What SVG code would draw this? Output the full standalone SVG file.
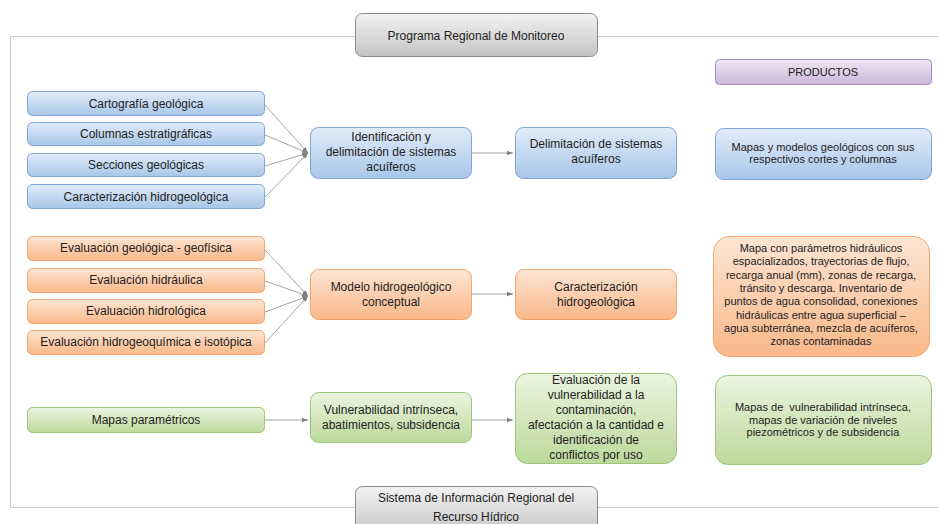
<svg xmlns="http://www.w3.org/2000/svg" width="938" height="524" viewBox="0 0 938 524">
<defs>
<linearGradient id="gb" x1="0" y1="0" x2="0" y2="1"><stop offset="0" stop-color="#e1ecf8"/><stop offset="1" stop-color="#a8c6e9"/></linearGradient>
<linearGradient id="go" x1="0" y1="0" x2="0" y2="1"><stop offset="0" stop-color="#fde5d3"/><stop offset="1" stop-color="#f9b88a"/></linearGradient>
<linearGradient id="gg" x1="0" y1="0" x2="0" y2="1"><stop offset="0" stop-color="#ebf4e0"/><stop offset="1" stop-color="#bcd99b"/></linearGradient>
<linearGradient id="gy" x1="0" y1="0" x2="0" y2="1"><stop offset="0" stop-color="#f2f2f2"/><stop offset="1" stop-color="#c4c4c4"/></linearGradient>
<linearGradient id="gp" x1="0" y1="0" x2="0" y2="1"><stop offset="0" stop-color="#efe7f4"/><stop offset="1" stop-color="#cbb6da"/></linearGradient>
<marker id="ah" viewBox="0 0 6 6" refX="6" refY="3" markerWidth="6" markerHeight="6" orient="auto" markerUnits="userSpaceOnUse"><path d="M0,0.8 L6,3 L0,5.2 z" fill="#808080"/></marker>
</defs>
<style>
text{font-family:"Liberation Sans",Arial,sans-serif;font-size:12px;fill:#222222;text-anchor:middle;white-space:pre}
.b{fill:url(#gb);stroke:#7fa7d8;stroke-width:1}
.o{fill:url(#go);stroke:#f3a56e;stroke-width:1}
.g{fill:url(#gg);stroke:#9cc47c;stroke-width:1}
.y{fill:url(#gy);stroke:#8a8a8a;stroke-width:1}
.p{fill:url(#gp);stroke:#a98cc0;stroke-width:1}
.c{fill:none;stroke:#8c8c8c;stroke-width:0.8}
.s{font-size:11px}
</style>
<rect width="938" height="524" fill="#ffffff"/>
<g id="frame" fill="none" stroke="#c8c8c8" stroke-width="1">
<polyline points="355,36.5 10.5,36.5 10.5,507.5 355,507.5"/>
<line x1="598" y1="36.5" x2="938" y2="36.5"/>
<line x1="598" y1="507.5" x2="938" y2="507.5"/>
</g>
<g id="connectors">
<line class="c" x1="265" y1="105" x2="308" y2="153" marker-end="url(#ah)"/>
<line class="c" x1="265" y1="135" x2="308" y2="153" marker-end="url(#ah)"/>
<line class="c" x1="265" y1="166" x2="308" y2="153" marker-end="url(#ah)"/>
<line class="c" x1="265" y1="197" x2="308" y2="153" marker-end="url(#ah)"/>
<line class="c" x1="472" y1="153" x2="513" y2="153" marker-end="url(#ah)"/>
<line class="c" x1="265" y1="250" x2="308" y2="296" marker-end="url(#ah)"/>
<line class="c" x1="265" y1="281" x2="308" y2="296" marker-end="url(#ah)"/>
<line class="c" x1="265" y1="312" x2="308" y2="296" marker-end="url(#ah)"/>
<line class="c" x1="265" y1="343" x2="308" y2="296" marker-end="url(#ah)"/>
<line class="c" x1="472" y1="294" x2="513" y2="294" marker-end="url(#ah)"/>
<line class="c" x1="265" y1="420" x2="308" y2="420" marker-end="url(#ah)"/>
<line class="c" x1="472" y1="420" x2="513" y2="420" marker-end="url(#ah)"/>
</g>
<g id="title"><rect class="y" x="355.5" y="13.5" width="242" height="43" rx="7"/><text x="476" y="39.5">Programa Regional de Monitoreo</text></g>
<g id="bottom"><rect class="y" x="355.5" y="486.5" width="242" height="50" rx="7"/><text x="476" y="502">Sistema de Información Regional del</text><text x="476" y="521">Recurso Hídrico</text></g>
<g id="productos"><rect class="p" x="715.5" y="59.5" width="216" height="25" rx="4"/><text class="s" x="823" y="76">PRODUCTOS</text></g>

<g id="b1"><rect class="b" x="27.5" y="91.5" width="237" height="24" rx="5"/><text x="146" y="107.5">Cartografía geológica</text></g>
<g id="b2"><rect class="b" x="27.5" y="122.5" width="237" height="23" rx="5"/><text x="146" y="138">Columnas estratigráficas</text></g>
<g id="b3"><rect class="b" x="27.5" y="153.5" width="237" height="23" rx="5"/><text x="146" y="169">Secciones geológicas</text></g>
<g id="b4"><rect class="b" x="27.5" y="184.5" width="237" height="24" rx="5"/><text x="146" y="200.5">Caracterización hidrogeológica</text></g>
<g id="b5"><rect class="b" x="310.5" y="127.5" width="161" height="51" rx="8"/><text x="391" y="141">Identificación y</text><text x="391" y="156">delimitación de sistemas</text><text x="391" y="171">acuíferos</text></g>
<g id="b6"><rect class="b" x="515.5" y="127.5" width="161" height="51" rx="8"/><text x="596" y="148">Delimitación de sistemas</text><text x="596" y="163">acuíferos</text></g>
<g id="b7"><rect class="b" x="715.5" y="128.5" width="216" height="51" rx="8"/><text class="s" x="823" y="151">Mapas y modelos geológicos con sus</text><text class="s" x="823" y="163">respectivos cortes y columnas</text></g>

<g id="o1"><rect class="o" x="27.5" y="236.5" width="237" height="24" rx="5"/><text x="146" y="252">Evaluación geológica - geofísica</text></g>
<g id="o2"><rect class="o" x="27.5" y="268.5" width="237" height="24" rx="5"/><text x="146" y="284">Evaluación hidráulica</text></g>
<g id="o3"><rect class="o" x="27.5" y="299.5" width="237" height="24" rx="5"/><text x="146" y="315">Evaluación hidrológica</text></g>
<g id="o4"><rect class="o" x="27.5" y="330.5" width="237" height="24" rx="5"/><text x="146" y="346">Evaluación hidrogeoquímica e isotópica</text></g>
<g id="o5"><rect class="o" x="310.5" y="269.5" width="161" height="50" rx="8"/><text x="391" y="291">Modelo hidrogeológico</text><text x="391" y="306">conceptual</text></g>
<g id="o6"><rect class="o" x="515.5" y="269.5" width="161" height="50" rx="8"/><text x="596" y="291">Caracterización</text><text x="596" y="306">hidrogeológica</text></g>
<g id="o7"><rect class="o" x="713.5" y="236.5" width="216" height="120" rx="16"/>
<text class="s" x="821" y="252">Mapa con parámetros hidráulicos</text>
<text class="s" x="821" y="265.3">espacializados, trayectorias de flujo,</text>
<text class="s" x="821" y="278.6">recarga anual (mm), zonas de recarga,</text>
<text class="s" x="821" y="291.9">tránsito y descarga. Inventario de</text>
<text class="s" x="821" y="305.2">puntos de agua consolidad, conexiones</text>
<text class="s" x="821" y="318.5">hidráulicas entre agua superficial –</text>
<text class="s" x="821" y="331.8">agua subterránea, mezcla de acuíferos,</text>
<text class="s" x="821" y="345.1">zonas contaminadas</text></g>

<g id="g1"><rect class="g" x="27.5" y="407.5" width="237" height="25" rx="5"/><text x="146" y="424">Mapas paramétricos</text></g>
<g id="g2"><rect class="g" x="310.5" y="392.5" width="161" height="50" rx="8"/><text x="391" y="414">Vulnerabilidad intrínseca,</text><text x="391" y="429">abatimientos, subsidencia</text></g>
<g id="g3"><rect class="g" x="515.5" y="373.5" width="161" height="90" rx="12"/>
<text x="596" y="384">Evaluación de la</text><text x="596" y="399">vulnerabilidad a la</text><text x="596" y="414">contaminación,</text><text x="596" y="429">afectación a la cantidad e</text><text x="596" y="444">identificación de</text><text x="596" y="459">conflictos por uso</text></g>
<g id="g4"><rect class="g" x="715.5" y="375.5" width="216" height="89" rx="12"/>
<text class="s" x="823" y="411">Mapas de  vulnerabilidad intrínseca,</text><text class="s" x="823" y="423.5">mapas de variación de niveles</text><text class="s" x="823" y="436">piezométricos y de subsidencia</text></g>
</svg>
